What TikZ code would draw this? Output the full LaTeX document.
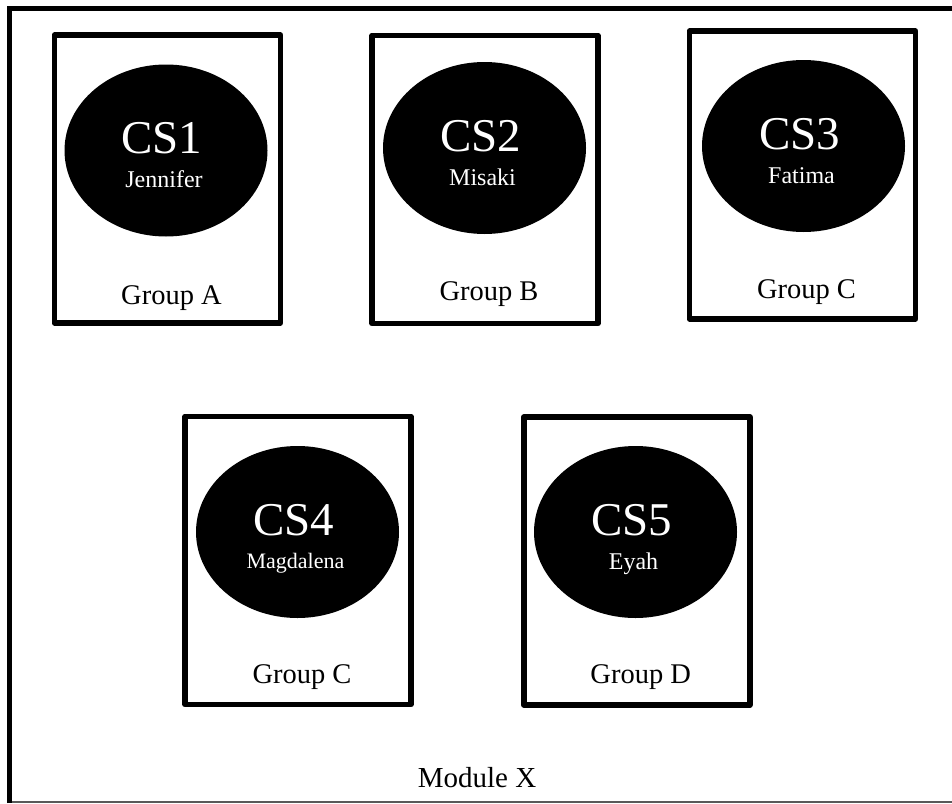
\documentclass[tikz,border=0pt]{standalone}
\usepackage{fontspec}
\setmainfont{Liberation Serif}
\usetikzlibrary{shapes.geometric}
\tikzset{
  boxst/.style={draw=black, line width=5.5pt, line join=round, rectangle, minimum width=226pt, minimum height=288pt, inner sep=0pt, outer sep=0pt},
  ellst/.style={ellipse, fill=black, draw=none, minimum width=203pt, minimum height=172pt, inner sep=0pt},
  cslab/.style={anchor=base, text=white, inner sep=0pt, font=\fontsize{47}{47}\selectfont},
  namelab/.style={anchor=base, text=white, inner sep=0pt, font=\fontsize{24}{24}\selectfont},
  grplab/.style={anchor=base, text=black, inner sep=0pt, font=\fontsize{28.5}{28.5}\selectfont},
  frameline/.style={line width=5pt, black, line cap=butt},
}
\begin{document}
\begin{tikzpicture}[x=1pt, y=-1pt]
\useasboundingbox (0,0) rectangle (952,803);
% outer module frame
\coordinate (fbl) at (9.5,803);
\coordinate (ftl) at (9.5,8.5);
\coordinate (ftr) at (952,8.5);
\coordinate (fbl2) at (9.5,802);
\coordinate (fbr) at (952,802);
\draw[gray!70!black, line width=1.8pt] (fbl2) -- (fbr);
\draw[frameline, line join=miter] (fbl) -- (ftl) -- (ftr);
% boxes
\node[boxst] (b1) at (167.5,179) {};
\node[boxst] (b2) at (485,179.5) {};
\node[boxst] (b3) at (802.5,175) {};
\node[boxst] (b4) at (298,560.5) {};
\node[boxst] (b5) at (636.75,561) {};
% ellipses
\node[ellst] (e1) at (166,150.5) {};
\node[ellst] (e2) at (484.5,148) {};
\node[ellst] (e3) at (803.5,146) {};
\node[ellst] (e4) at (297.5,532) {};
\node[ellst] (e5) at (635.5,532) {};
% CS labels
\node[cslab] (c1) at (162,153.5) {CS1};
\node[cslab] (c2) at (480.5,151) {CS2};
\node[cslab] (c3) at (799.5,149) {CS3};
\node[cslab] (c4) at (293.5,535) {CS4};
\node[cslab] (c5) at (631.5,535) {CS5};
% names
\node[namelab] (n1) at (164,187.5) {Jennifer};
\node[namelab] (n2) at (482.5,185) {Misaki};
\node[namelab] (n3) at (801.5,183) {Fatima};
\node[namelab, font=\fontsize{22}{22}\selectfont] (n4) at (295.5,568) {Magdalena};
\node[namelab] (n5) at (633.5,569) {Eyah};
% group labels
\node[grplab] (g1) at (171.5,304) {Group A};
\node[grplab] (g2) at (489,300) {Group B};
\node[grplab] (g3) at (806.5,298) {Group C};
\node[grplab] (g4) at (302,683) {Group C};
\node[grplab] (g5) at (640.75,683) {Group D};
% module label
\node[grplab, font=\fontsize{29}{29}\selectfont] (mx) at (477,787) {Module X};
\end{tikzpicture}
\end{document}
